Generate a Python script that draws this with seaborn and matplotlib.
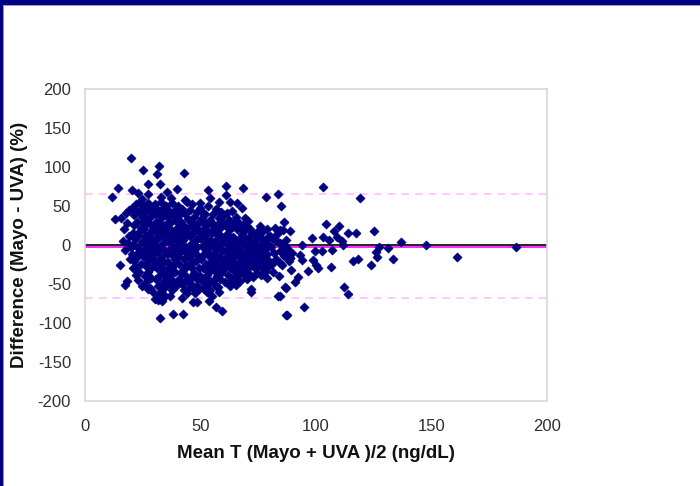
import matplotlib
matplotlib.use("Agg")
import matplotlib.pyplot as plt
from matplotlib.patches import Rectangle
import numpy as np
import pandas as pd
import seaborn as sns

# Mean testosterone (ng/dL) and percent difference, main cloud
core_mean = [
    20.5, 21.2, 22.0, 22.6, 23.4, 24.1, 24.8, 20.8, 21.6, 22.3, 23.0, 23.8, 24.5, 20.3, 21.0,
    21.8, 22.7, 23.5, 24.3, 21.4, 23.1, 24.7, 22.2, 20.9, 24.0, 23.7, 22.9, 21.9, 24.9, 20.6,
    25.2, 25.9, 26.5, 27.1, 27.8, 28.4, 29.0, 29.6, 25.4, 26.1, 26.8, 27.5, 28.2, 28.9, 29.5,
    25.6, 26.3, 27.0, 27.7, 28.5, 29.2, 25.8, 26.6, 27.3, 28.0, 28.7, 29.4, 26.0, 27.4, 29.8,
    25.3, 28.1, 29.3, 26.9, 28.8, 27.9,
    30.2, 30.8, 31.5, 32.1, 32.8, 33.4, 34.0, 34.6, 30.5, 31.2, 31.9, 32.5, 33.2, 33.9, 34.5,
    30.4, 31.0, 31.7, 32.4, 33.0, 33.7, 34.3, 30.7, 31.4, 32.2, 32.9, 33.6, 34.8, 30.9, 34.2,
    31.8, 33.3, 32.6, 30.1, 34.7, 31.3, 33.8, 32.0, 34.4, 30.6,
    35.2, 35.8, 36.4, 37.0, 37.7, 38.3, 38.9, 39.5, 35.5, 36.1, 36.8, 37.4, 38.0, 38.6, 39.3,
    35.3, 36.0, 36.6, 37.2, 37.9, 38.5, 39.1, 35.7, 36.3, 37.0, 37.6, 38.2, 38.8, 39.6, 36.9,
    35.1, 39.8, 38.4, 36.2, 37.3, 39.0, 35.9, 38.7,
    40.3, 40.9, 41.5, 42.2, 42.8, 43.5, 44.1, 44.7, 40.5, 41.2, 41.8, 42.5, 43.1, 43.8, 44.4,
    40.2, 40.9, 41.6, 42.3, 43.0, 43.6, 44.3, 40.7, 41.4, 42.0, 42.7, 43.3, 44.0, 44.6, 41.0,
    43.9, 42.6, 40.1, 44.9, 41.9, 43.4,
    45.3, 45.9, 46.5, 47.2, 47.8, 48.4, 49.0, 49.6, 45.5, 46.2, 46.8, 47.4, 48.1, 48.7, 49.4,
    45.2, 45.9, 46.6, 47.3, 47.9, 48.6, 49.2, 45.7, 46.4, 47.0, 47.7, 48.3, 49.0, 49.8, 46.1,
    48.9, 45.4, 47.5, 49.5, 46.9,
    50.2, 50.8, 51.5, 52.1, 52.7, 53.4, 54.0, 54.6, 50.4, 51.0, 51.7, 52.3, 53.0, 53.6, 54.3,
    50.3, 50.9, 51.6, 52.2, 52.9, 53.5, 54.2, 54.8, 50.6, 51.3, 52.0, 52.6, 53.2, 54.0, 51.2,
    53.8, 50.1, 52.5, 54.5, 51.8,
    55.2, 55.9, 56.5, 57.1, 57.8, 58.4, 59.0, 59.7, 55.4, 56.0, 56.7, 57.3, 58.0, 58.6, 59.3,
    55.3, 55.9, 56.6, 57.2, 57.9, 58.5, 59.2, 55.7, 56.3, 57.0, 57.6, 58.2, 58.9, 59.6, 55.1,
    57.4, 59.4, 56.2, 58.7, 55.8,
    60.3, 60.9, 61.6, 62.2, 62.8, 63.5, 64.1, 64.7, 60.5, 61.1, 61.8, 62.4, 63.1, 63.7, 64.4,
    60.2, 60.8, 61.5, 62.1, 62.7, 63.4, 64.0, 64.6, 60.6, 61.3, 62.6, 63.9, 61.0, 63.2, 64.9,
    65.3, 65.9, 66.5, 67.2, 67.8, 68.4, 69.0, 69.7, 65.5, 66.1, 66.8, 67.4, 68.0, 68.7, 69.3,
    65.2, 65.8, 66.5, 67.1, 67.7, 68.4, 69.1, 69.8, 66.2, 68.8, 65.6, 67.5,
    70.3, 70.9, 71.6, 72.2, 72.8, 73.5, 74.1, 74.8, 70.5, 71.1, 71.8, 72.4, 73.1, 73.7, 74.4,
    70.2, 70.8, 71.5, 72.6, 73.9, 74.6, 71.3,
    75.3, 75.9, 76.6, 77.2, 77.8, 78.5, 79.1, 79.7, 75.5, 76.2, 76.8, 77.5, 78.1, 78.8, 79.4,
    75.8, 77.0, 76.4, 78.9, 75.1,
    80.4, 81.2, 82.0, 82.8, 83.6, 84.4, 85.2, 86.0, 86.8, 87.6, 88.4, 89.2, 80.8, 81.6, 83.0,
    84.0, 85.8, 87.3, 88.7, 89.8, 82.4, 80.2,
]
core_diff = [
    48, 38, 52, 30, 44, 22, 36, 15, 8, -2, 12, -8, 4, -12, -20,
    -28, -16, -35, -24, 26, -45, -52, -38, 0, 55, 18, -10, 42, -14, -30,
    50, 42, 33, 54, 46, 25, 38, 48, 20, 12, 28, 5, 15, -4, 8,
    -6, -15, -22, -12, -30, -18, -40, -48, -35, -55, -42, -60, 2, -2, -26,
    30, 36, 20, -28, 0, -8,
    52, 40, 45, 30, 55, 36, 48, 26, 18, 8, 22, -3, 14, 2, 10,
    -10, -20, -8, -28, -16, -34, -22, -44, -52, -40, -60, -48, -38, 30, -6,
    -66, -72, 44, 0, 38, -30, 20, 12, -55, -25,
    50, 36, 44, 28, 54, 40, 32, 46, 16, 6, 20, -4, 12, 0, 8,
    -12, -22, -6, -30, -14, -26, -18, -42, -50, -38, -58, -46, -35, -52, -66,
    24, 22, -8, 30, 2, -2, -30, 15,
    50, 38, 30, 46, 24, 40, 55, 33, 14, 4, 18, -6, 10, -2, 16,
    -14, -24, -8, -32, -18, -40, -26, -44, -36, -50, -58, -48, -62, -12, 26,
    22, 6, -4, -45, -68, -30,
    45, 30, 52, 36, 22, 42, 28, 48, 12, 2, 16, -8, 6, -2, 10,
    -16, -28, -10, -36, -20, -44, -30, -50, -40, -56, -62, -52, -14, -40, 24,
    20, -4, 0, -56, -22,
    44, 34, 20, 40, 26, 50, 32, 18, 8, -2, 12, -8, 4, -14, 6,
    -18, -30, -12, -24, -38, -28, -46, -20, -46, -56, -42, -60, -34, -58, 28,
    -4, 16, 14, -32, 0,
    40, 26, 46, 14, 34, 22, 42, 8, 2, -10, 6, -4, -16, 0, -8,
    -22, -32, -26, -40, -30, -44, -20, -50, -44, -54, -18, -60, -36, -28, 16,
    20, 30, -2, 12, -14,
    38, 24, 14, 32, 20, 44, 10, 28, 4, -6, 2, -12, -2, -18, -6,
    -20, -30, -24, -38, -28, -46, -32, -42, -48, -14, -52, -22, 12, 6, -10,
    36, 20, 8, 26, 14, 4, 18, -2, -4, -14, -6, -20, -10, -28, -14,
    -26, -38, -30, -46, -34, -18, -40, -24, 30, 8, 2, 0,
    24, 10, 2, 16, -4, 6, -10, 12, -8, -18, -12, -26, -16, -30, -22,
    -34, -28, -38, -8, 0, -36, 20,
    14, 0, -8, 6, -14, -4, 10, -20, -24, -16, -30, -22, -34, -12, -28,
    24, 18, -38, 2, -6,
    -2, 8, -10, -18, 4, -8, -26, -14, 6, -4, -20, -32, -24, -34, 14,
    -40, -2, -7, -17, -10, 22, 12,
]

# Scattered points above and below the main cloud
outer_mean = [
    19.8, 25.2, 32.0, 31.2, 42.8, 14.2, 11.9, 20.4, 27.1, 32.5, 35.6, 39.9, 22.8, 27.4, 43.5,
    37.2, 32.9, 24.5, 13.2, 15.5, 17.7, 53.4, 61.1, 68.5, 61.0, 78.3, 83.5, 84.9, 86.3, 88.7,
    49.9, 54.1, 58.1, 62.8, 65.7, 67.8, 61.6, 57.0, 50.5, 69.3, 70.7, 68.5, 78.6, 84.4, 51.2,
    58.4, 63.5, 74.3,
    15.2, 18.3, 17.3, 21.6, 27.4, 30.3, 31.7, 34.6, 34.6, 32.5, 38.2, 42.6, 40.4, 44.7, 46.9,
    48.4, 53.7, 56.6, 59.2, 54.8, 71.7, 71.9, 83.4, 87.3, 86.6, 65.4, 70.0, 72.9, 78.6, 65.7,
    52.7, 52.0, 57.7, 17.3, 16.5, 19.0, 19.5, 17.0, 19.0, 18.0, 20.0, 18.7,
]
outer_diff = [
    112, 96, 101, 91, 92, 72.7, 62, 71, 77.8, 78, 68, 71.4, 67, 66, 57.7,
    60, 62, 58.6, 33, 34, 41.4, 70, 75, 73.5, 64, 62, 65, 50.5, 30, 18,
    53.4, 60, 55.5, 55.5, 54, 47, 40.6, 45, 42.7, 34, 31, 25.6, 21, 19, 30,
    30, 23.5, 17,
    -26, -46.5, -51, -31, -56, -69, -71, -65, -52, -94, -88, -88.5, -48, -56, -73.5,
    -73.5, -71.4, -80, -84, -66, -60.7, -56.4, -66, -89.7, -54, -51, -43.6, -41.4, -42.3, -35,
    -50, -54, -54, -6.4, 5, 12, -18, 20, 45, 28, -3, 2,
]

# Higher concentrations, sparse tail
tail_mean = [
    103.0, 119.0, 104.5, 110.0, 108.0, 114.0, 117.3, 125.0, 98.4, 102.9, 105.8, 109.0, 111.4,
    111.8, 93.8, 136.8, 147.6, 186.4, 161.0, 127.4, 131.3, 125.8, 126.3, 133.2, 123.7, 118.3,
    115.9, 106.5, 102.7, 107.0, 99.6, 93.0, 94.0, 98.8, 100.0, 101.0, 96.7, 92.3, 90.9, 86.9,
    112.0, 114.0, 94.7, 87.0, 84.4, 87.3, 88.7, 85.7, 84.4, 85.7, 84.4,
]
tail_diff = [
    74, 60.6, 27, 24, 17.5, 15, 16, 18, 8.6, 10.6, 6.4, 9.8, 5.5,
    0, 0.4, 4.3, 0.4, -2, -16, -2, -3.4, -8.5, -15, -18, -26, -17.5,
    -21, -28, -7.3, -6.4, -7.3, -12.8, -19, -19, -25.6, -30, -33, -40.6, -47, -54.7,
    -53.4, -63, -79, -90, -66, -7.3, -17, 19, 2.6, -9, -23,
]

# Agreement statistics (%)
mean_bias = -2.5
upper_loa = 65
lower_loa = -68

x_ticks = [0, 50, 100, 150, 200]
y_ticks = [200, 150, 100, 50, 0, -50, -100, -150, -200]

df = pd.DataFrame({
    "mean_t": core_mean + outer_mean + tail_mean,
    "diff": core_diff + outer_diff + tail_diff,
})

sns.set_theme(style="white")
plt.rcParams["font.family"] = ["Liberation Sans", "DejaVu Sans"]

fig = plt.figure(figsize=(7.0, 4.86), dpi=100)
fig.patch.set_facecolor("white")

# Slide frame: navy band at the top and a thin strip at the left
fig.add_artist(Rectangle((0, 1 - 5 / 486), 1, 5 / 486, transform=fig.transFigure,
                         facecolor="#000080", edgecolor="none", zorder=0))
fig.add_artist(Rectangle((0, 1 - 6.5 / 486), 1, 1.5 / 486, transform=fig.transFigure,
                         facecolor="#9a9ad0", edgecolor="none", zorder=0))
fig.add_artist(Rectangle((0, 0), 2.5 / 700, 1, transform=fig.transFigure,
                         facecolor="#000080", edgecolor="none", zorder=0))
fig.add_artist(Rectangle((2.5 / 700, 0), 1.2 / 700, 1 - 6.5 / 486, transform=fig.transFigure,
                         facecolor="#8c8cc8", edgecolor="none", zorder=0))

ax = fig.add_axes([85 / 700, 85 / 486, 462 / 700, 312 / 486])

ax.axhline(upper_loa, color="#ffb8ff", lw=1.1, ls=(0, (5, 4)), zorder=1)
ax.axhline(lower_loa, color="#ffb8ff", lw=1.1, ls=(0, (5, 4)), zorder=1)
ax.axhline(0, color="black", lw=1.2, zorder=1)
ax.axhline(mean_bias, color="#ff00ff", lw=1.2, zorder=1)

sns.scatterplot(data=df, x="mean_t", y="diff", ax=ax, marker="D", s=22,
                color="#000080", edgecolor="#000080", linewidth=0.4, zorder=3)

ax.set_xlim(0, 200)
ax.set_ylim(-200, 200)
ax.set_xticks(x_ticks)
ax.set_yticks(y_ticks)
ax.set_xticklabels([str(v) for v in x_ticks])
ax.set_yticklabels([str(v) for v in y_ticks])

for side in ["left", "right", "top", "bottom"]:
    ax.spines[side].set_visible(True)
    ax.spines[side].set_color("#d8d8d8")
    ax.spines[side].set_linewidth(1.2)

ax.tick_params(axis="both", which="major", direction="out", length=4, width=1,
               color="#c8c8c8", labelsize=12, labelcolor="#303030")
ax.tick_params(axis="x", pad=9)
ax.tick_params(axis="y", pad=6)
ax.grid(False)

ax.set_xlabel("Mean T (Mayo + UVA )/2 (ng/dL)", fontsize=13.5, fontweight="bold",
              color="#111111", va="center")
ax.set_ylabel("Difference (Mayo - UVA) (%)", fontsize=13.5, fontweight="bold",
              color="#111111", va="center")
ax.xaxis.set_label_coords(0.5, (401 - 453) / 312)
ax.yaxis.set_label_coords((20 - 85) / 462, 0.5)

fig.savefig("out.png", dpi=100, facecolor="white")
